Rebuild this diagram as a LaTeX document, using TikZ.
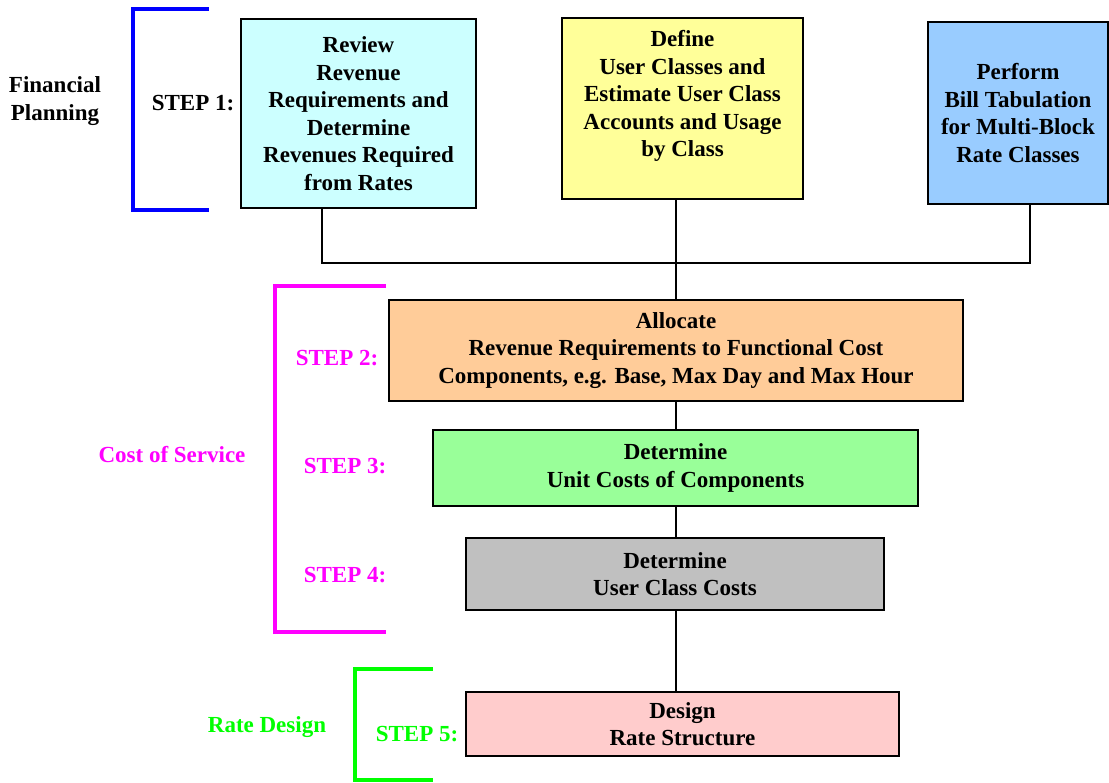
\documentclass[tikz,border=0pt]{standalone}
\usepackage{fontspec}
\setmainfont{Liberation Serif}

\definecolor{reviewfill}{HTML}{CCFFFF}
\definecolor{definefill}{HTML}{FFFF99}
\definecolor{billfill}{HTML}{99CCFF}
\definecolor{allocfill}{HTML}{FFCC99}
\definecolor{unitfill}{HTML}{99FF99}
\definecolor{classfill}{HTML}{C0C0C0}
\definecolor{designfill}{HTML}{FFCCCC}
\definecolor{planblue}{HTML}{0000FF}
\definecolor{costmagenta}{HTML}{FF00FF}
\definecolor{rategreen}{HTML}{00FF00}

\newcommand{\boxfont}{\bfseries\fontsize{23}{27.5}\selectfont}

\tikzset{
  stepbox/.style = {draw, line width = 1.5pt, align = center, inner sep = 0pt, font = \boxfont},
  steplabel/.style = {align = center, inner sep = 0pt, font = \boxfont},
  link/.style = {line width = 1.3pt},
  bracket/.style = {line width = 4.5pt}
}

\begin{document}
\begin{tikzpicture}[x = 1pt, y = -1pt]

\useasboundingbox (0, 0) rectangle (1109, 783);

\node[stepbox, fill = reviewfill, minimum width = 235pt, minimum height = 189pt] (review) at (358.5, 113.5)
  {Review\\Revenue\\Requirements and\\Determine\\Revenues Required\\from Rates};
\node[stepbox, fill = definefill, minimum width = 241pt, minimum height = 181pt] (define) at (682.5, 108.5) {};
\node[steplabel] (definetext) at (682.5, 96)
  {Define\\User Classes and\\Estimate User Class\\Accounts and Usage\\by Class};
\node[stepbox, fill = billfill, minimum width = 180pt, minimum height = 182pt] (bill) at (1018, 113)
  {Perform\\Bill Tabulation\\for Multi-Block\\Rate Classes};

\node[stepbox, fill = allocfill, minimum width = 574pt, minimum height = 101pt] (allocate) at (676, 350.5)
  {Allocate\\Revenue Requirements to Functional Cost\\Components, e.g. Base, Max Day and Max Hour};
\node[stepbox, fill = unitfill, minimum width = 485pt, minimum height = 76pt] (unitcost) at (675.5, 468)
  {Determine\\Unit Costs of Components};
\node[stepbox, fill = classfill, minimum width = 418pt, minimum height = 72pt] (classcost) at (675, 574)
  {Determine\\User Class Costs};
\node[stepbox, fill = designfill, minimum width = 433pt, minimum height = 64pt] (design) at (682.5, 724)
  {Design\\Rate Structure};

\node[steplabel] (finplan) at (55, 101) {Financial\\Planning};
\node[steplabel] (step1) at (193, 103) {STEP 1:};
\node[steplabel, text = costmagenta] (costserv) at (172, 455) {Cost of Service};
\node[steplabel, text = costmagenta] (step2) at (337, 358) {STEP 2:};
\node[steplabel, text = costmagenta] (step3) at (345, 466) {STEP 3:};
\node[steplabel, text = costmagenta] (step4) at (345, 575) {STEP 4:};
\node[steplabel, text = rategreen] (ratedes) at (267, 727) {Rate Design};
\node[steplabel, text = rategreen] (step5) at (417, 734) {STEP 5:};

\draw[bracket, planblue] (209, 9) -| (133, 210) -- (209, 210);
\draw[bracket, costmagenta] (386, 286) -| (275, 632) -- (386, 632);
\draw[bracket, rategreen] (433, 669) -| (355, 780) -- (433, 780);

\coordinate (busleft) at (322, 263);
\coordinate (busright) at (1030, 263);

\draw[link] (review.south -| busleft) -- (busleft) -- (busright) -- (bill.south -| busright);
\draw[link] (define.south -| allocate.north) -- (allocate.north);
\draw[link] (allocate.south) -- (allocate.south |- unitcost.north);
\draw[link] (unitcost.south -| allocate.south) -- (allocate.south |- classcost.north);
\draw[link] (classcost.south -| allocate.south) -- (allocate.south |- design.north);

\end{tikzpicture}
\end{document}
